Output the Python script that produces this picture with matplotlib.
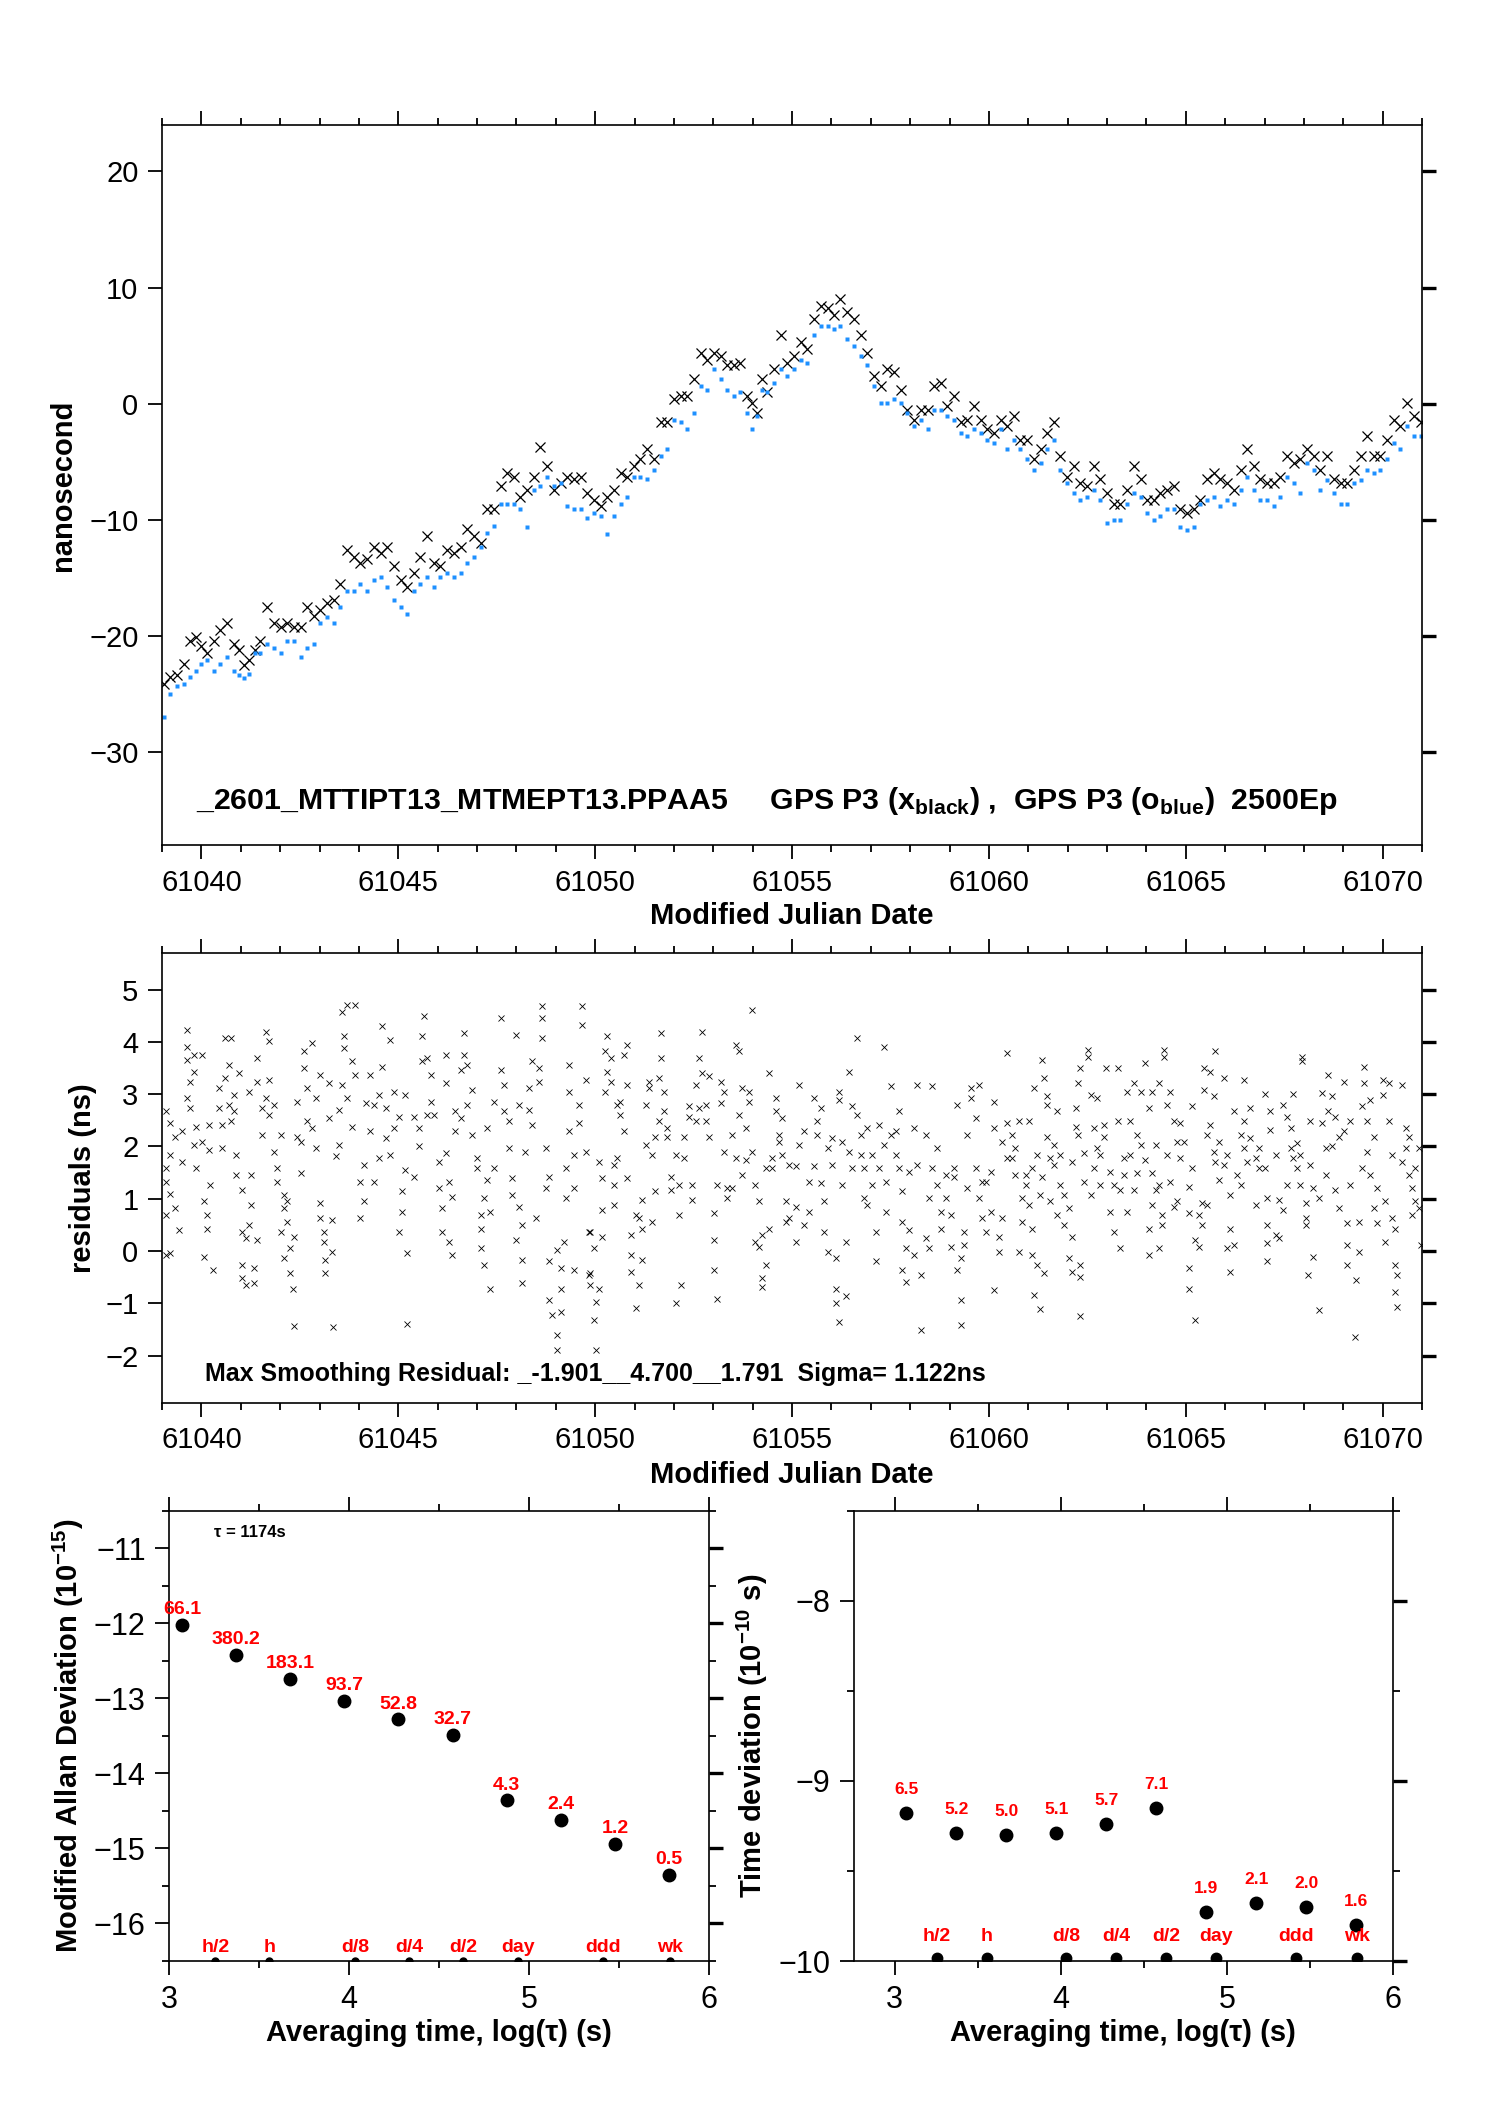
import numpy as np
import matplotlib
matplotlib.use('Agg')
import matplotlib.pyplot as plt
from matplotlib.ticker import MultipleLocator

plt.rcParams['font.family'] = ['Liberation Sans', 'DejaVu Sans']
plt.rcParams['mathtext.fontset'] = 'custom'
plt.rcParams['mathtext.rm'] = 'Liberation Sans'
plt.rcParams['mathtext.bf'] = 'Liberation Sans:bold'

MJD0 = 61040

# ---- top panel: clock offset (days since MJD0, ns) ----
top_day = [-0.96, -0.79, -0.62, -0.45, -0.28, -0.15, -0.02, 0.15, 0.31, 0.48,
           0.65, 0.82, 0.95, 1.08, 1.20, 1.37, 1.50, 1.67, 1.84, 2.01,
           2.18, 2.35, 2.52, 2.69, 2.86, 3.02, 3.19, 3.36, 3.53, 3.70,
           3.87, 4.04, 4.21, 4.38, 4.55, 4.72, 4.89, 5.06, 5.23, 5.40,
           5.56, 5.73, 5.90, 6.07, 6.24, 6.41, 6.58, 6.75, 6.92, 7.09,
           7.26, 7.43, 7.60, 7.77, 7.94, 8.10, 8.27, 8.44, 8.61, 8.78,
           8.95, 9.12, 9.29, 9.46, 9.63, 9.80, 9.97, 10.14, 10.31, 10.48,
           10.65, 10.82, 10.98, 11.15, 11.32, 11.49, 11.66, 11.83, 12.00, 12.17,
           12.34, 12.51, 12.68, 12.85, 13.02, 13.19, 13.36, 13.53, 13.69, 13.86,
           13.99, 14.12, 14.24, 14.37, 14.54, 14.71, 14.88, 15.05, 15.22, 15.39,
           15.56, 15.73, 15.90, 16.07, 16.23, 16.40, 16.57, 16.74, 16.91, 17.08,
           17.25, 17.42, 17.59, 17.76, 17.93, 18.10, 18.27, 18.44, 18.61, 18.77,
           18.94, 19.11, 19.28, 19.45, 19.62, 19.79, 19.96, 20.13, 20.30, 20.47,
           20.63, 20.80, 20.97, 21.14, 21.31, 21.48, 21.65, 21.81, 21.98, 22.15,
           22.32, 22.49, 22.66, 22.83, 23.00, 23.17, 23.34, 23.51, 23.68, 23.85,
           24.02, 24.19, 24.35, 24.52, 24.69, 24.86, 25.03, 25.20, 25.37, 25.54,
           25.71, 25.88, 26.05, 26.22, 26.39, 26.56, 26.73, 26.89, 27.06, 27.23,
           27.40, 27.57, 27.74, 27.91, 28.08, 28.25, 28.42, 28.59, 28.76, 28.93,
           29.10, 29.27, 29.44, 29.61, 29.78, 29.94, 30.11, 30.28, 30.45, 30.62,
           30.79, 30.96]
black_ns = [-24.1, -23.5, -23.4, -22.4, -20.4, -20.1, -20.9, -21.5, -20.4, -19.5,
            -18.9, -20.7, -21.2, -22.5, -22.1, -21.2, -20.4, -17.5, -18.9, -19.2,
            -18.9, -19.2, -19.2, -17.5, -18.3, -17.8, -17.2, -16.9, -15.5, -12.6,
            -13.2, -13.7, -13.4, -12.3, -12.9, -12.3, -14.0, -15.2, -15.8, -14.6,
            -13.2, -11.4, -13.7, -14.0, -12.6, -12.9, -12.3, -10.8, -11.4, -12.0,
            -9.1, -9.1, -7.1, -6.0, -6.3, -8.0, -7.4, -6.3, -3.7, -5.4,
            -7.4, -6.8, -6.3, -6.5, -6.3, -7.7, -8.3, -8.8, -8.0, -7.4,
            -6.0, -6.3, -5.4, -4.8, -3.9, -4.8, -1.6, -1.6, 0.4, 0.7,
            0.7, 2.1, 4.4, 3.8, 4.4, 4.1, 3.3, 3.3, 3.5, 0.7,
            0.1, -0.8, 2.1, 1.0, 3.0, 5.9, 3.5, 4.1, 5.3, 4.7,
            7.3, 8.4, 8.2, 7.6, 9.0, 7.9, 7.3, 5.9, 4.4, 2.4,
            1.5, 3.0, 2.7, 1.2, -0.5, -1.4, -0.5, -0.5, 1.5, 1.8,
            -0.2, 0.7, -1.6, -1.4, -0.2, -1.4, -2.2, -2.5, -1.4, -1.9,
            -1.1, -3.1, -3.1, -4.8, -3.9, -2.5, -1.6, -4.5, -6.3, -5.4,
            -6.8, -7.1, -5.4, -6.5, -7.7, -8.6, -8.6, -7.4, -5.4, -6.5,
            -8.3, -8.3, -7.7, -7.4, -7.1, -9.1, -9.4, -9.1, -8.3, -6.5,
            -6.0, -6.5, -6.8, -7.4, -5.7, -3.9, -5.4, -6.5, -6.8, -6.8,
            -6.3, -4.5, -5.1, -4.8, -3.9, -4.5, -5.7, -4.5, -6.5, -6.8,
            -6.8, -5.7, -4.5, -2.8, -4.5, -4.5, -3.1, -1.4, -1.9, 0.1,
            -1.1, -1.6]
blue_ns = [-27.0, -25.0, -24.3, -24.1, -23.5, -23.0, -22.4, -22.1, -23.0, -22.4,
           -21.8, -23.0, -23.4, -23.6, -23.3, -21.5, -21.5, -20.7, -21.0, -21.5,
           -20.4, -20.4, -21.8, -21.0, -20.7, -18.9, -18.4, -18.9, -17.5, -16.1,
           -16.1, -15.5, -16.1, -15.2, -14.9, -15.8, -16.9, -17.5, -18.1, -16.1,
           -15.5, -14.9, -15.8, -14.9, -14.6, -14.9, -14.6, -13.7, -13.2, -12.3,
           -11.1, -10.5, -8.6, -8.6, -8.6, -9.1, -10.6, -7.4, -7.1, -6.3,
           -7.1, -6.8, -8.8, -9.1, -9.1, -9.8, -9.4, -9.7, -11.2, -9.7,
           -8.6, -8.0, -6.3, -6.3, -6.5, -5.7, -4.5, -3.9, -1.4, -1.6,
           -2.2, -0.8, 1.5, 1.2, 3.0, 2.1, 1.2, 0.7, 1.0, -0.8,
           -2.2, -1.1, 1.2, 1.0, 1.8, 3.0, 2.4, 3.0, 3.8, 3.5,
           5.9, 6.7, 6.7, 6.4, 6.7, 5.6, 5.0, 4.1, 3.3, 1.5,
           0.1, 0.1, 0.4, 0.1, -0.8, -1.9, -1.4, -2.2, -0.5, -0.5,
           -1.1, -1.4, -2.5, -2.8, -2.2, -2.5, -3.1, -3.4, -2.2, -3.9,
           -3.1, -3.9, -4.8, -5.7, -5.1, -3.9, -3.1, -5.7, -6.8, -7.7,
           -8.3, -8.0, -7.4, -8.3, -10.3, -10.0, -10.0, -8.6, -7.7, -8.0,
           -9.4, -10.0, -9.7, -9.1, -9.1, -10.6, -10.9, -10.6, -8.6, -8.3,
           -8.0, -8.8, -8.3, -8.6, -7.4, -6.3, -7.4, -8.3, -8.3, -8.8,
           -8.0, -6.3, -6.8, -7.7, -5.1, -5.7, -7.4, -6.6, -7.7, -8.6,
           -8.6, -6.8, -6.6, -5.7, -6.0, -5.7, -4.8, -3.4, -3.9, -1.9,
           -2.8, -2.8]

# ---- middle panel: smoothing residuals, grouped by epoch column ----
res_day = [-0.91, -0.79, -0.66, -0.57, -0.49, -0.36, -0.28, -0.19, -0.13, 0.02,
           0.06, 0.15, 0.19, 0.23, 0.30, 0.44, 0.53, 0.61, 0.70, 0.74,
           0.82, 0.87, 0.95, 1.03, 1.12, 1.20, 1.25, 1.33, 1.42, 1.54,
           1.63, 1.71, 1.84, 1.92, 2.01, 2.09, 2.18, 2.25, 2.33, 2.36,
           2.43, 2.52, 2.60, 2.69, 2.81, 2.90, 3.02, 3.11, 3.15, 3.24,
           3.32, 3.35, 3.41, 3.49, 3.57, 3.62, 3.70, 3.83, 3.91, 4.04,
           4.13, 4.17, 4.29, 4.38, 4.51, 4.59, 4.68, 4.80, 4.89, 5.01,
           5.10, 5.18, 5.23, 5.40, 5.52, 5.61, 5.65, 5.73, 5.82, 5.90,
           6.03, 6.12, 6.20, 6.28, 6.37, 6.45, 6.58, 6.67, 6.75, 6.88,
           7.00, 7.09, 7.17, 7.26, 7.34, 7.43, 7.60, 7.68, 7.81, 7.89,
           7.98, 8.06, 8.15, 8.23, 8.32, 8.40, 8.49, 8.57, 8.66, 8.74,
           8.82, 8.91, 9.04, 9.12, 9.21, 9.25, 9.33, 9.46, 9.59, 9.67,
           9.76, 9.84, 9.88, 9.97, 10.03, 10.09, 10.18, 10.26, 10.31, 10.39,
           10.48, 10.56, 10.64, 10.73, 10.81, 10.90, 11.03, 11.11, 11.20, 11.28,
           11.37, 11.45, 11.53, 11.62, 11.66, 11.75, 11.83, 11.92, 12.04, 12.13,
           12.17, 12.25, 12.38, 12.47, 12.55, 12.64, 12.72, 12.81, 12.89, 13.02,
           13.10, 13.19, 13.27, 13.36, 13.48, 13.57, 13.65, 13.74, 13.82, 13.91,
           13.99, 14.07, 14.16, 14.24, 14.33, 14.41, 14.50, 14.58, 14.67, 14.75,
           14.84, 14.92, 15.09, 15.18, 15.30, 15.43, 15.56, 15.64, 15.73, 15.81,
           15.90, 16.02, 16.11, 16.19, 16.28, 16.36, 16.45, 16.53, 16.66, 16.74,
           16.83, 16.91, 17.04, 17.12, 17.21, 17.34, 17.38, 17.50, 17.63, 17.72,
           17.80, 17.89, 17.97, 18.10, 18.18, 18.27, 18.39, 18.48, 18.56, 18.69,
           18.77, 18.90, 19.03, 19.11, 19.20, 19.28, 19.37, 19.45, 19.54, 19.66,
           19.75, 19.83, 19.92, 20.04, 20.13, 20.26, 20.34, 20.47, 20.59, 20.67,
           20.76, 20.84, 20.93, 21.01, 21.09, 21.14, 21.22, 21.29, 21.35, 21.39,
           21.48, 21.56, 21.64, 21.73, 21.81, 21.90, 22.03, 22.11, 22.20, 22.25,
           22.32, 22.41, 22.51, 22.58, 22.66, 22.75, 22.83, 22.91, 22.98, 23.08,
           23.17, 23.27, 23.34, 23.42, 23.51, 23.59, 23.68, 23.76, 23.85, 23.97,
           24.06, 24.14, 24.23, 24.31, 24.40, 24.44, 24.52, 24.61, 24.69, 24.78,
           24.86, 24.95, 25.07, 25.16, 25.23, 25.33, 25.41, 25.47, 25.54, 25.62,
           25.71, 25.75, 25.84, 25.96, 26.05, 26.13, 26.22, 26.30, 26.39, 26.47,
           26.56, 26.64, 26.77, 26.85, 27.00, 27.06, 27.15, 27.28, 27.36, 27.47,
           27.56, 27.66, 27.72, 27.83, 27.91, 27.96, 28.04, 28.10, 28.16, 28.22,
           28.38, 28.46, 28.55, 28.61, 28.72, 28.80, 28.88, 29.01, 29.10, 29.18,
           29.29, 29.33, 29.39, 29.48, 29.52, 29.60, 29.69, 29.77, 29.86, 30.01,
           30.07, 30.15, 30.24, 30.32, 30.37, 30.49, 30.58, 30.66, 30.75, 30.83,
           30.92, 30.98]
res_ns = [[2.67, 1.58, 1.33, 0.69, -0.08], [2.45, 1.84, 1.10, -0.04], [2.19, 0.82], [0.40],
          [2.29, 1.71], [4.23, 3.91, 3.66, 2.92], [3.24, 2.73], [3.75, 3.43, 2.03], [2.38, 1.58],
          [3.75, 2.09], [0.95, -0.11], [0.69, 0.43], [1.93, 2.41], [1.26], [-0.36],
          [3.12, 2.73], [2.41, 1.97], [4.07, 3.31], [3.56, 2.80], [4.07, 2.48],
          [2.99, 2.67], [1.84, 1.46], [3.40], [1.17, 0.37, -0.27, -0.52], [0.24, -0.65],
          [3.05, 0.50], [1.46, 0.88], [-0.33, -0.62], [3.24, 3.69, 0.21], [2.73, 2.22],
          [4.20, 2.92], [4.01, 3.28, 2.61], [2.80, 1.90], [1.58, 1.33], [2.22, 0.37],
          [1.07, 0.82, -0.14], [0.95, 0.56], [-0.43, 0.05], [-0.72], [-1.43, 0.27],
          [2.86, 2.19], [2.09, 1.49], [3.82, 3.50], [3.12, 2.48], [2.35, 3.98],
          [2.92, 1.97], [3.37, 0.91, 0.63], [0.37, 0.18], [-0.43, -0.17], [3.21, 2.54],
          [0.59, -0.01], [-1.45], [1.81], [2.03, 2.70], [3.18, 4.58],
          [4.11, 3.88], [4.70, 2.92], [3.63, 2.38], [3.37, 4.70], [1.33, 0.63],
          [1.65, 0.95], [2.83], [2.29, 3.37], [1.33, 2.80], [2.99, 1.78],
          [4.30, 3.53], [2.73, 2.16], [4.04, 1.84], [3.05, 2.35], [2.57, 0.37],
          [1.14, 0.75], [2.99, 1.55], [-0.04, -1.39], [2.57, 1.42], [2.00, 2.35],
          [4.11, 3.63], [4.49], [3.69, 2.61], [3.37, 2.86], [2.61],
          [1.71, 1.20], [0.82, 0.37], [3.75, 3.21, 1.87], [1.33, 0.18], [-0.08, 1.04],
          [2.29, 2.67], [3.47, 2.54], [4.17, 3.75], [3.56, 2.80], [3.08, 2.22],
          [1.78, 1.58], [0.69, 0.43, 0.05], [1.01, -0.27], [2.35, 1.36], [0.75, -0.72],
          [2.86, 1.58], [4.46, 3.47], [3.18, 2.67], [2.48, 1.97], [1.07, 1.39],
          [4.14, 0.21], [0.85, 2.80], [0.50, -0.17, -0.62], [1.90], [3.12, 2.70],
          [3.63, 2.41], [0.63], [3.50, 3.24], [4.68, 4.07, 4.46], [1.97, 1.20],
          [1.42, -0.20, -0.94], [-1.23], [0.02, -1.61, -1.90], [-0.33, -0.72, -1.16], [0.18],
          [1.01, 1.58], [3.56, 3.05, 2.29], [1.20, 1.84, -0.36], [2.80, 2.45], [4.68, 4.33],
          [3.28, 1.90], [0.37, -0.46], [0.37, -0.43, -0.65], [-1.32, 0.05], [-1.90, -0.97],
          [1.71, -0.72], [1.39, 0.79, 0.27], [3.82, 3.05], [4.11, 3.43], [3.69, 3.24],
          [1.65, 1.26, 0.88], [2.80, 1.78], [2.86, 2.61], [3.75, 2.29], [3.95, 3.18, 1.39],
          [0.31, -0.08, -0.40], [0.69, -1.10], [-0.65, 0.63], [0.43, 0.98, -0.17], [2.03, 2.80],
          [3.24, 3.12], [1.84, 0.56], [2.19, 1.14], [3.31, 2.48], [4.17, 3.69],
          [3.05, 2.67], [2.19, 2.35], [1.42, 1.17], [1.84, -1.00], [1.26, 0.69],
          [-0.65], [2.19, 1.78], [2.77, 2.57], [1.26, 0.98], [2.48, 3.18],
          [3.69, 2.73], [3.40, 4.20], [2.80, 2.48], [2.19, 3.34], [0.21, -0.36, 0.72],
          [1.26, -0.91], [2.83, 3.24], [1.90, 3.05], [1.01, 1.20], [2.22, 1.20],
          [3.95, 1.78], [2.61, 3.82], [3.12, 1.46], [1.74, 2.35], [2.86, 3.05],
          [4.62, 1.90], [1.26, 0.18], [0.95, 0.08], [0.31, -0.68, -0.52], [-0.27, 1.58],
          [3.40, 0.43], [1.78, 1.58], [2.92, 2.67], [2.22, 2.09], [1.84, 2.54],
          [0.56, 0.95], [1.65, 0.63], [0.85, 0.18, 1.62], [3.18, 2.03], [2.29, 0.50],
          [0.75, 1.33], [2.92, 1.62], [2.22, 2.48], [2.73, 1.30], [0.95, 0.37],
          [1.97, -0.01], [2.16, 1.65], [-0.72, -1.00, -0.14], [3.05, 2.89, -1.35], [2.09, 1.26],
          [0.18, -0.87], [3.43, 1.90], [1.58, 2.77], [4.07, 2.61], [1.84, 2.22],
          [1.58, 1.01], [2.35, 0.88], [1.26, 1.84], [0.37, -0.20], [2.41, 1.58],
          [3.91, 2.03], [1.33, 0.75], [3.15, 2.22], [2.29, 1.84], [1.58, 2.67],
          [-0.36, 1.14, 0.56], [0.05, -0.59], [1.52, 0.40], [2.35, -0.08], [3.18, 1.65],
          [-0.46, -1.51], [2.22, 0.24], [0.05, 1.01], [3.15, 1.58], [1.97, 1.26],
          [0.75, 0.43], [1.46, 1.01], [0.69, 0.08], [1.42, 1.58], [2.80, -0.36],
          [-0.14, -1.42, -0.94], [0.37, 0.11], [1.20, 2.22], [3.12, 2.92], [2.54, 1.58],
          [3.18, 1.01], [0.63, 1.33], [1.33, 0.37], [0.75, 1.52], [-0.75, 2.86, 2.35],
          [-0.01, 0.27], [0.63, 2.09], [3.79, 1.78, 2.45], [1.78, 2.22], [1.46, 1.97],
          [-0.01, 2.48], [1.01, 0.56], [1.26, 1.46], [2.48, 0.88], [1.58, 0.43, -0.08],
          [-0.84, 3.12], [-0.27, 1.84], [-1.11, 1.07], [3.66, 1.42], [3.31, -0.43],
          [2.96, 2.80, 2.19], [1.78, 0.95], [2.03, 1.65], [2.67, 0.69], [1.84, 1.26],
          [1.07, 0.50], [-0.14, 0.82], [-0.40, 1.71, 0.27], [2.73, 2.38], [3.21, 2.22],
          [3.50, -1.24, -0.27, -0.49], [1.33, 1.87], [3.85, 3.72], [1.07, 2.99], [2.35, 1.58],
          [2.92, 1.97], [1.26, 1.84], [2.41, 2.19], [3.50], [1.52, 0.75],
          [0.37, 1.26], [3.51, 2.48], [1.17, 0.05], [1.78, 1.46], [0.75, 3.05],
          [1.84, 2.48], [3.21, 1.17], [2.22, 1.49], [2.03, 3.05], [3.60, 1.74],
          [2.73, 0.43, -0.08], [3.05, 1.49, 0.88], [2.03, 1.17], [3.21, 1.26, 0.05], [0.69, 0.50],
          [3.85, 3.72], [2.80, 1.84], [3.05, 1.33], [2.48, 0.85], [2.09, 0.95],
          [2.45, 1.78], [2.09], [0.72, -0.33, -0.72, 1.23], [2.77, 1.58], [-1.32, 0.21],
          [0.08, 0.69], [0.50, 0.91], [3.50, 3.08], [0.88, 2.22], [3.43, 2.41],
          [2.96, 1.90], [3.83, 1.71], [2.09, 1.36], [3.31, 1.65], [0.05, 1.84],
          [1.07, 0.43, -0.40], [2.67, 0.11], [1.46], [2.22, 1.26], [3.28, 2.48, 1.97],
          [1.71], [2.16, 2.73], [0.88, 1.78], [1.97, 1.58], [3.00, 1.58],
          [0.50, -0.20, 0.15, 1.01], [2.67, 2.32], [0.31, 1.84], [0.24, 0.98], [2.80, 0.79],
          [2.57, 1.26], [1.97, 2.35], [3.00, 1.78], [2.06, 1.58], [1.84, 1.26],
          [3.63, 3.72], [0.91, 0.50, 0.63], [-0.46], [2.48, 1.65], [-0.11, 1.20],
          [-1.13, 1.01], [3.02, 2.45], [1.97, 1.46], [3.37, 2.67], [2.96, 2.00],
          [2.57, 1.17], [0.82, 2.19], [3.24, 2.29], [0.11, -0.27, 0.53], [1.26, 2.48],
          [-1.64], [-0.56], [0.56, -0.01], [2.77, 1.58], [3.53, 3.21],
          [1.90, 2.48], [2.89, 1.46], [0.82, 2.19], [1.20, 0.53], [3.28, 2.99],
          [0.95, 0.18], [3.21, 2.48], [1.84, 0.63], [-0.27, -0.78, 0.43], [-1.07, -0.46],
          [3.18, 1.71], [2.35, 1.97], [2.19, 1.46], [1.20, 0.69], [1.58, 0.95],
          [1.97, 0.82], [0.11]]

# ---- bottom panels: stability vs averaging time ----
tau_s = [1174, 2348, 4696, 9392, 18784, 37568, 75136, 150272, 300544, 601088]
mdev_log = [-12.02, -12.42, -12.74, -13.03, -13.28, -13.49, -14.36, -14.62, -14.94, -15.35]
mdev_lab = ['66.1', '380.2', '183.1', '93.7', '52.8', '32.7', '4.3', '2.4', '1.2', '0.5']
tdev_log = [-9.18, -9.29, -9.30, -9.29, -9.24, -9.15, -9.73, -9.68, -9.70, -9.80]
tdev_lab = ['6.5', '5.2', '5.0', '5.1', '5.7', '7.1', '1.9', '2.1', '2.0', '1.6']
mark_s = [1800, 3600, 10800, 21600, 43200, 86400, 259200, 604800]
mark_lab = ['h/2', 'h', 'd/8', 'd/4', 'd/2', 'day', 'ddd', 'wk']

FS = 21
fig = plt.figure(figsize=(14.88, 21.05), dpi=100)
ax1 = fig.add_axes([0.1089, 0.5986, 0.8468, 0.3420])
ax2 = fig.add_axes([0.1089, 0.3337, 0.8468, 0.2135])
ax3 = fig.add_axes([0.1138, 0.0684, 0.3626, 0.2139])
ax4 = fig.add_axes([0.5737, 0.0684, 0.3625, 0.2139])


def style_axis(ax, size=FS):
    for sp in ax.spines.values():
        sp.set_linewidth(1.2)
    ax.tick_params(which='both', direction='out', top=True, right=True,
                   labelsize=size, width=1.3)
    ax.tick_params(which='major', length=10, pad=7)
    ax.tick_params(which='minor', length=5)
    # right-hand ticks are drawn heavier in the original
    for t in ax.yaxis.get_major_ticks():
        t.tick2line.set_markeredgewidth(2.4)


# top panel
mjd_top = MJD0 + np.array(top_day)
ax1.plot(mjd_top, black_ns, 'x', color='black', ms=7, mew=0.9)
ax1.plot(mjd_top, blue_ns, 's', color='#1E90FF', ms=3.4, mec='none')
ax1.set_xlim(61039, 61071)
ax1.set_ylim(-38, 24)
ax1.xaxis.set_major_locator(MultipleLocator(5))
ax1.xaxis.set_minor_locator(MultipleLocator(1))
ax1.yaxis.set_major_locator(MultipleLocator(10))
style_axis(ax1)
ax1.set_xlabel('Modified Julian Date', fontsize=FS, fontweight='bold')
ax1.set_ylabel('nanosecond', fontsize=FS, fontweight='bold')
ax1.xaxis.set_label_coords(0.5, -0.079)
ax1.yaxis.set_label_coords(-0.0675, 0.5)
ax1.text(61039.87, -34.2,
         r'_2601_MTTIPT13_MTMEPT13.PPAA5     GPS P3 (x$_{\mathbf{black}}$) ,  '
         r'GPS P3 (o$_{\mathbf{blue}}$)  2500Ep',
         fontsize=21.8, fontweight='bold', va='center', ha='left')

# residual panel
rx, ry = [], []
for d, vals in zip(res_day, res_ns):
    for v in vals:
        rx.append(MJD0 + d)
        ry.append(v)
ax2.plot(rx, ry, 'x', color='black', ms=5, mew=0.6)
ax2.set_xlim(61039, 61071)
ax2.set_ylim(-2.9, 5.7)
ax2.xaxis.set_major_locator(MultipleLocator(5))
ax2.xaxis.set_minor_locator(MultipleLocator(1))
ax2.yaxis.set_major_locator(MultipleLocator(1))
style_axis(ax2)
ax2.set_xlabel('Modified Julian Date', fontsize=FS, fontweight='bold')
ax2.set_ylabel('residuals (ns)', fontsize=FS, fontweight='bold')
ax2.xaxis.set_label_coords(0.5, -0.130)
ax2.yaxis.set_label_coords(-0.052, 0.5)
ax2.text(61040.08, -2.36,
         'Max Smoothing Residual: _-1.901__4.700__1.791  Sigma= 1.122ns',
         fontsize=18, fontweight='bold', va='center', ha='left')

# modified Allan deviation
lt = np.log10(tau_s)
lm = np.log10(mark_s)
ax3.plot(lt, mdev_log, 'o', color='black', ms=9)
for x, y, s in zip(lt, mdev_log, mdev_lab):
    ax3.annotate(s, (x, y), xytext=(0, 11), textcoords='offset points',
                 ha='center', va='center', color='red', fontsize=14,
                 fontweight='bold')
ax3.plot(lm, [-16.5] * len(lm), 'o', color='black', ms=5)
for x, s in zip(lm, mark_lab):
    ax3.annotate(s, (x, -16.5), xytext=(0, 10), textcoords='offset points',
                 ha='center', va='center', color='red', fontsize=14,
                 fontweight='bold')
ax3.set_xlim(3, 6)
ax3.set_ylim(-16.5, -10.5)
ax3.xaxis.set_major_locator(MultipleLocator(1))
ax3.xaxis.set_minor_locator(MultipleLocator(0.5))
ax3.yaxis.set_major_locator(MultipleLocator(1))
ax3.yaxis.set_minor_locator(MultipleLocator(0.5))
style_axis(ax3, 22)
ax3.text(3.246, -10.79, '\u03c4 = 1174s', fontsize=12, fontweight='bold',
         va='center', ha='left')
ax3.set_xlabel('Averaging time, log(\u03c4) (s)', fontsize=FS, fontweight='bold')
ax3.set_ylabel(r'Modified Allan Deviation (10$^{\mathbf{-15}}$)', fontsize=FS,
               fontweight='bold')
ax3.xaxis.set_label_coords(0.5, -0.129)
ax3.yaxis.set_label_coords(-0.155, 0.5)

# time deviation
ax4.plot(lt, tdev_log, 'o', color='black', ms=9)
for x, y, s in zip(lt, tdev_log, tdev_lab):
    ax4.annotate(s, (x, y), xytext=(0, 17), textcoords='offset points',
                 ha='center', va='center', color='red', fontsize=12.5,
                 fontweight='bold')
ax4.plot(lm, [-9.985] * len(lm), 'o', color='black', ms=7.5)
for x, s in zip(lm, mark_lab):
    ax4.annotate(s, (x, -10), xytext=(0, 18), textcoords='offset points',
                 ha='center', va='center', color='red', fontsize=14,
                 fontweight='bold')
ax4.set_xlim(2.754, 6)
ax4.set_ylim(-10, -7.5)
ax4.xaxis.set_major_locator(MultipleLocator(1))
ax4.xaxis.set_minor_locator(MultipleLocator(0.5))
ax4.yaxis.set_major_locator(MultipleLocator(1))
ax4.yaxis.set_minor_locator(MultipleLocator(0.5))
style_axis(ax4, 22)
ax4.set_xlabel('Averaging time, log(\u03c4) (s)', fontsize=FS, fontweight='bold')
ax4.set_ylabel(r'Time deviation (10$^{\mathbf{-10}}$ s)', fontsize=FS,
               fontweight='bold')
ax4.xaxis.set_label_coords(0.5, -0.129)
ax4.yaxis.set_label_coords(-0.155, 0.5)

fig.savefig('out.png', dpi=100, facecolor='white')
